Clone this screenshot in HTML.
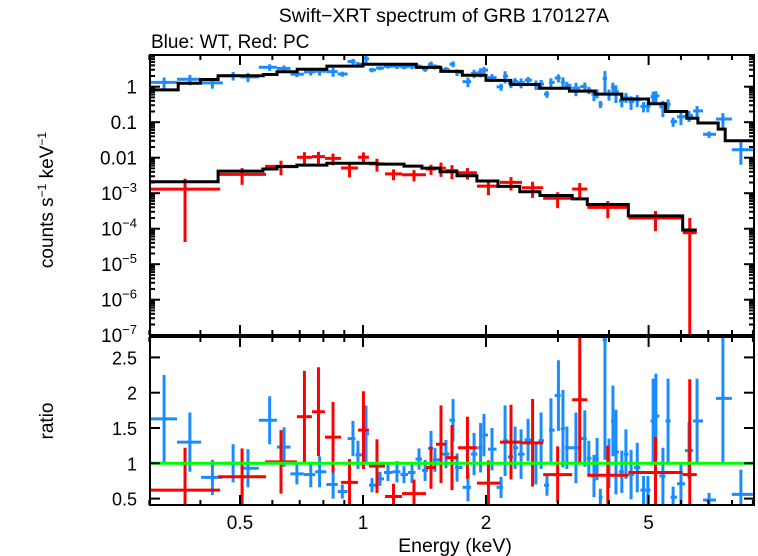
<!DOCTYPE html>
<html><head><meta charset="utf-8"><style>
html,body{margin:0;padding:0;background:#fff;}
svg{display:block;font-family:"Liberation Sans",sans-serif;}
</style></head><body>
<svg id="chart" width="758" height="556" viewBox="0 0 758 556" xmlns="http://www.w3.org/2000/svg">
<defs>
<clipPath id="clipTop"><rect x="150" y="55" width="604" height="280"/></clipPath>
<clipPath id="clipBot"><rect x="150" y="337" width="604" height="168"/></clipPath>
</defs>
<text x="444" y="22" text-anchor="middle" font-size="19.5">Swift−XRT spectrum of GRB 170127A</text>
<text x="151" y="48" font-size="19">Blue: WT, Red: PC</text>
<text transform="translate(53,200) rotate(-90)" text-anchor="middle" font-size="19">counts s<tspan baseline-shift="super" font-size="12">−1</tspan> keV<tspan baseline-shift="super" font-size="12">−1</tspan></text>
<text transform="translate(53,421) rotate(-90)" text-anchor="middle" font-size="19">ratio</text>
<text x="455" y="552" text-anchor="middle" font-size="19.5">Energy (keV)</text>
<g id="gTop"></g>
<g id="gBot"></g>
<g id="gAxes"></g>
</svg>
<script>
// ---- data ----
const blueModelEdges = [0.30,0.353,0.40,0.442,0.57,0.616,0.69,0.816,1.0,1.35,1.55,1.75,2.0,2.3,2.7,3.2,3.7,4.3,5.0,5.5,6.2,6.6,7.4,7.7,9.0];
const blueModelValues = [0.81,1.25,1.6,2.04,2.2,2.65,3.1,3.8,4.3,3.5,2.7,2.1,1.5,1.15,0.9,0.75,0.62,0.45,0.33,0.2,0.13,0.095,0.064,0.03];
const redModelEdges = [0.301,0.442,0.569,0.616,0.689,0.816,1.082,1.26,1.394,1.543,1.698,1.90,2.14,2.42,2.71,3.25,3.54,4.46,6.06,6.56];
const redModelValues = [0.0021,0.0042,0.0048,0.0056,0.0062,0.0070,0.0066,0.0058,0.0051,0.0040,0.0031,0.0022,0.00155,0.0011,0.00086,0.00069,0.00048,0.00023,0.000092];
const blueEnergy = [0.326,0.377,0.428,0.481,0.523,0.591,0.641,0.689,0.745,0.783,0.845,0.890,0.945,0.972,1.017,1.052,1.101,1.151,1.211,1.260,1.318,1.371,1.419,1.467,1.500,1.596,1.661,1.699,1.807,1.870,1.940,1.977,2.069,2.177,2.227,2.302,2.356,2.437,2.535,2.65,2.728,2.82,2.884,3.008,3.086,3.155,3.32,3.49,3.57,3.675,3.74,3.81,3.91,4.0,4.09,4.16,4.30,4.40,4.53,4.69,4.86,4.98,5.13,5.21,5.42,5.58,5.74,6.0,6.28,6.57,7.03,7.60,8.41];
const blueRatio = [1.63,1.30,0.80,1.0,0.93,1.61,1.23,0.85,0.84,0.88,0.70,0.60,1.35,1.12,1.42,0.69,0.78,0.87,0.88,0.84,0.87,1.06,0.90,1.21,1.05,1.13,1.61,0.94,0.66,1.13,1.22,1.4,1.2,0.66,1.32,1.09,1.22,1.13,1.33,1.0,1.32,0.69,1.47,1.96,1.49,1.22,1.22,1.35,1.07,0.82,1.06,0.52,2.75,1.0,1.6,1.16,0.88,1.13,0.84,0.94,0.62,0.62,1.6,1.67,0.82,1.6,0.52,0.71,1.18,1.6,0.48,1.92,0.56];
const blueErr = [0.62,0.42,0.25,0.27,0.27,0.34,0.28,0.15,0.18,0.22,0.2,0.1,0.25,0.2,0.4,0.1,0.1,0.12,0.15,0.12,0.15,0.15,0.15,0.25,0.17,0.2,0.3,0.2,0.2,0.3,0.35,0.3,0.3,0.15,0.5,0.3,0.3,0.35,0.3,0.3,0.4,0.15,0.45,0.5,0.55,0.3,0.5,0.4,0.25,0.3,0.3,0.12,1.7,0.35,0.5,0.6,0.3,0.35,0.35,0.35,0.2,0.2,0.6,0.6,0.4,0.6,0.15,0.3,0.4,0.6,0.1,0.9,0.35];
const redLo = [0.301,0.442,0.576,0.689,0.750,0.807,0.884,0.972,1.034,1.132,1.246,1.426,1.509,1.596,1.708,1.90,2.164,2.45,2.76,3.25,3.54,4.46,6.06];
const redHi = [0.447,0.579,0.689,0.750,0.807,0.884,0.972,1.034,1.132,1.246,1.426,1.509,1.596,1.708,1.90,2.164,2.45,2.76,3.25,3.54,4.46,6.06,6.56];
const redRatio = [0.62,0.81,1.02,1.66,1.73,1.37,0.73,1.47,0.96,0.53,0.57,0.94,1.27,1.08,1.22,0.72,1.30,1.29,0.84,1.90,0.83,0.87,0.84];
const redErr = [0.60,0.4,0.45,0.65,0.63,0.5,0.33,0.55,0.38,0.18,0.2,0.3,0.55,0.46,0.44,0.32,0.53,0.62,0.4,0.9,0.42,0.5,1.35];
const xMajor = [0.5,1,2,5];
const xMinor = [0.3,0.4,0.6,0.7,0.8,0.9,3,4,6,7,8,9];
const yTopTicks = [1,0.1,0.01,1e-3,1e-4,1e-5,1e-6,1e-7];
const yTopLabels = ["1","0.1","0.01","10|−3","10|−4","10|−5","10|−6","10|−7"];
const yBotTicks = [0.5,1,1.5,2,2.5];
const yBotLabels = ["0.5","1","1.5","2","2.5"];

// ---- axes ----
const X0=150, X1=754, TOP0=55, TOP1=335, BOT0=337, BOT1=505;
const x = e => 363 + 408.6*Math.log10(e);
const yT = v => 86.7 - 35.5*Math.log10(v);
const yB = r => 463.3 - 70.6*(r-1);
const NS="http://www.w3.org/2000/svg";
function mk(tag, attrs, parent){const el=document.createElementNS(NS,tag);for(const k in attrs)el.setAttribute(k,attrs[k]);parent.appendChild(el);return el;}
const gTop=document.getElementById('gTop'), gBot=document.getElementById('gBot'), gAx=document.getElementById('gAxes');
const cTop=mk('g',{'clip-path':'url(#clipTop)'},gTop);
const cBot=mk('g',{'clip-path':'url(#clipBot)'},gBot);
const BLUE="#1a8cff", RED="#ff0000";

function stepPath(edges, vals){
  let d="";
  for(let i=0;i<vals.length;i++){
    const yy=yT(vals[i]);
    d += (i===0?"M":"L")+x(edges[i]).toFixed(1)+","+yy.toFixed(1)+" L"+x(edges[i+1]).toFixed(1)+","+yy.toFixed(1)+" ";
  }
  return d;
}
function modelAt(edges, vals, e){
  for(let i=0;i<vals.length;i++) if(e>=edges[i] && e<edges[i+1]) return vals[i];
  return vals[vals.length-1];
}
function cross(parent, xl, xr, xc, yc, yl, yh, color, name){
  const g=mk('g',{stroke:color,'stroke-width':3,fill:'none'},parent);
  
  
  mk('line',{x1:xl,x2:xr,y1:yc,y2:yc},g);
  mk('line',{x1:xc,x2:xc,y1:yl,y2:yh},g);
}

for(let i=0;i<blueEnergy.length;i++){
  const e=blueEnergy[i];
  const lo = i===0?0.30:Math.sqrt(blueEnergy[i-1]*e);
  const hi = i===blueEnergy.length-1?9.0:Math.sqrt(blueEnergy[i+1]*e);
  const m=modelAt(blueModelEdges,blueModelValues,e);
  const r=blueRatio[i], er=blueErr[i];
  const v=m*r, vlo=m*(r-er), vhi=m*(r+er);
  cross(cTop,x(lo),x(hi),x(e),yT(v),vlo>0?yT(vlo):400,yT(vhi),BLUE,'wt-data-point');
  cross(cBot,x(lo),x(hi),x(e),yB(r),yB(r-er),yB(r+er),BLUE,'wt-ratio-point');
}
for(let i=0;i<redRatio.length;i++){
  const lo=redLo[i], hi=redHi[i], e=Math.sqrt(lo*hi);
  const m=modelAt(redModelEdges,redModelValues,e);
  const r=redRatio[i], er=redErr[i];
  const v=m*r, vlo=m*(r-er), vhi=m*(r+er);
  cross(cTop,x(lo),x(hi),x(e),yT(v),vlo>0?yT(vlo):400,yT(vhi),RED,'pc-data-point');
  cross(cBot,x(lo),x(hi),x(e),yB(r),yB(r-er),yB(r+er),RED,'pc-ratio-point');
}
const bm=mk('path',{d:stepPath(blueModelEdges,blueModelValues),stroke:'#000','stroke-width':3,fill:'none'},cTop);


const rm=mk('path',{d:stepPath(redModelEdges,redModelValues),stroke:'#000','stroke-width':3,fill:'none'},cTop);


const gl=mk('line',{x1:X0,x2:X1,y1:yB(1),y2:yB(1),stroke:'#00ff00','stroke-width':3},cBot);



for(const [y0,y1,nm] of [[TOP0,TOP1,'top-frame'],[BOT0,BOT1,'bottom-frame']]){
  const f=mk('rect',{x:X0,y:y0,width:X1-X0,height:y1-y0,fill:'none',stroke:'#000','stroke-width':2},gAx);
  
  
}
for(const [y0,y1] of [[TOP0,TOP1],[BOT0,BOT1]]){
  for(const e of xMajor){ const xx=x(e);
    mk('line',{x1:xx,x2:xx,y1:y0,y2:y0+10,stroke:'#000','stroke-width':2},gAx);
    mk('line',{x1:xx,x2:xx,y1:y1,y2:y1-10,stroke:'#000','stroke-width':2},gAx);}
  for(const e of xMinor){ const xx=x(e);
    mk('line',{x1:xx,x2:xx,y1:y0,y2:y0+5,stroke:'#000','stroke-width':2},gAx);
    mk('line',{x1:xx,x2:xx,y1:y1,y2:y1-5,stroke:'#000','stroke-width':2},gAx);}
}
for(const e of xMajor){
  const t=mk('text',{x:x(e),y:529,'text-anchor':'middle','font-size':19},gAx);
  t.textContent=String(e);
  
  
}
for(let i=0;i<yTopTicks.length;i++){
  const v=yTopTicks[i], yy=yT(v);
  mk('line',{x1:X0,x2:X0+10,y1:yy,y2:yy,stroke:'#000','stroke-width':2},gAx);
  mk('line',{x1:X1,x2:X1-10,y1:yy,y2:yy,stroke:'#000','stroke-width':2},gAx);
  for(let k=2;k<=9;k++){ const ym=yT(v*k); if(ym<TOP0) continue;
    mk('line',{x1:X0,x2:X0+5,y1:ym,y2:ym,stroke:'#000','stroke-width':2},gAx);
    mk('line',{x1:X1,x2:X1-5,y1:ym,y2:ym,stroke:'#000','stroke-width':2},gAx);}
  const parts=yTopLabels[i].split('|');
  const t=mk('text',{x:137,y:yy+7,'text-anchor':'end','font-size':19},gAx);
  
  
  if(parts.length===1){t.textContent=parts[0];}
  else{ const a=document.createElementNS(NS,'tspan'); a.textContent=parts[0]; t.appendChild(a);
    const b=document.createElementNS(NS,'tspan'); b.setAttribute('dy','-8'); b.setAttribute('font-size','13'); b.textContent=parts[1]; t.appendChild(b);}
}
for(let i=0;i<yBotTicks.length;i++){
  const yy=yB(yBotTicks[i]);
  mk('line',{x1:X0,x2:X0+10,y1:yy,y2:yy,stroke:'#000','stroke-width':2},gAx);
  mk('line',{x1:X1,x2:X1-10,y1:yy,y2:yy,stroke:'#000','stroke-width':2},gAx);
  const t=mk('text',{x:137,y:yy+7,'text-anchor':'end','font-size':18},gAx);
  t.textContent=yBotLabels[i];
  
  
}
</script>
</body></html>
